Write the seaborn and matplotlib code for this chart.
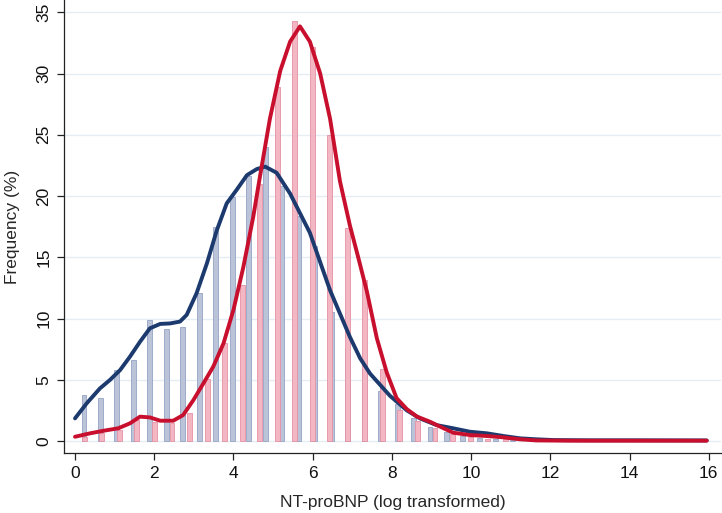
import numpy as np
import pandas as pd
import matplotlib
matplotlib.use("Agg")
import matplotlib.pyplot as plt
import seaborn as sns

# ---------------- data ----------------
# Histogram group 1 (blue-grey): bins start at 0, width ~0.416
blue_start = 0.019
blue_width = 0.416
blue_pct = [3.76, 3.54, 5.8, 6.64, 9.89, 9.12, 9.34, 12.07, 17.5, 19.9,
            21.65, 24.0, 20.8, 18.4, 15.9, 10.5, 7.6, 5.9, 4.1, 3.0,
            1.85, 1.17, 0.76, 0.41, 0.22, 0.16, 0.1]

# Histogram group 2 (pink): bins start at 0, width ~0.443
pink_start = 0.014
pink_width = 0.4427
pink_pct = [0.35, 0.68, 0.9, 1.7, 1.55, 1.45, 2.3, 5.1, 8.0, 12.7,
            21.0, 28.9, 34.3, 32.2, 25.0, 17.4, 13.15, 5.9, 2.5, 1.6,
            1.04, 0.57, 0.3, 0.16, 0.14]

# Density curves (in %)
blue_curve_x = [0, 0.295, 0.63, 0.88, 1.14, 1.39, 1.64, 1.89, 2.15, 2.4, 2.65, 2.82,
                3.07, 3.33, 3.58, 3.83, 4.08, 4.34, 4.59, 4.8, 5.09, 5.43, 5.68,
                5.93, 6.19, 6.44, 6.69, 6.94, 7.2, 7.45, 7.7, 7.95, 8.38, 8.71,
                9.13, 9.55, 9.97, 10.4, 10.82, 11.24, 11.66, 12.1, 13.0, 14.0, 15.95]
blue_curve_y = [1.85, 3.08, 4.3, 4.98, 5.8, 6.9, 8.1, 9.2, 9.56, 9.6, 9.75, 10.3,
                12.07, 14.5, 17.2, 19.4, 20.5, 21.7, 22.2, 22.4, 21.9, 20.2, 18.6,
                17.0, 14.6, 12.3, 10.4, 8.5, 6.75, 5.5, 4.6, 3.7, 2.5, 1.85,
                1.3, 1.04, 0.76, 0.63, 0.41, 0.22, 0.14, 0.08, 0.06, 0.06, 0.05]

red_curve_x = [0, 0.38, 0.72, 1.09, 1.39, 1.64, 1.89, 2.15, 2.48, 2.73, 2.99, 3.24,
               3.49, 3.75, 4.0, 4.25, 4.5, 4.67, 4.92, 5.18, 5.43, 5.68, 5.93,
               6.19, 6.44, 6.69, 6.94, 7.15, 7.37, 7.62, 7.87, 8.12, 8.38, 8.63,
               8.96, 9.22, 9.55, 9.97, 10.4, 10.82, 11.24, 11.66, 12.5, 14.0, 15.95]
red_curve_y = [0.35, 0.63, 0.84, 1.04, 1.45, 1.99, 1.93, 1.66, 1.66, 2.12, 3.35, 4.7,
               6.07, 7.98, 10.7, 14.2, 18.3, 21.6, 26.3, 30.2, 32.6, 33.85, 32.6,
               30.0, 26.3, 21.2, 17.6, 15.0, 12.2, 8.4, 5.6, 3.5, 2.6, 2.0,
               1.58, 1.17, 0.68, 0.49, 0.41, 0.3, 0.14, 0.05, 0.03, 0.03, 0.03]

x_ticks = [0, 2, 4, 6, 8, 10, 12, 14, 16]
y_ticks = [0, 5, 10, 15, 20, 25, 30, 35]
x_label = "NT-proBNP (log transformed)"
y_label = "Frequency (%)"

# ---------------- style ----------------
sns.set_theme(style="white")
plt.rcParams["font.family"] = ["Liberation Sans", "DejaVu Sans"]

fig = plt.figure(figsize=(7.22, 5.13), dpi=100)
ax = fig.add_axes([64 / 722, 1 - 453.3 / 513, (721 - 64) / 722, 453.3 / 513])

def bin_table(start, width, pct):
    n = len(pct)
    centers = start + width * (np.arange(n) + 0.5)
    edges = [float(e) for e in start + width * np.arange(n + 1)]
    return pd.DataFrame({"x": centers, "w": pct}), edges

blue_df, blue_edges = bin_table(blue_start, blue_width, blue_pct)
pink_df, pink_edges = bin_table(pink_start, pink_width, pink_pct)

sns.histplot(data=blue_df, x="x", weights="w", bins=blue_edges, shrink=0.30,
             color="#bac3d8", edgecolor="#95a4c4", linewidth=0.6, alpha=1.0, ax=ax)
sns.histplot(data=pink_df, x="x", weights="w", bins=pink_edges, shrink=0.28,
             color="#f3b7c4", edgecolor="#e590a4", linewidth=0.6, alpha=1.0, ax=ax)

sns.lineplot(x=blue_curve_x, y=blue_curve_y, color="#1c3a6e", linewidth=2.8, ax=ax)
sns.lineplot(x=red_curve_x, y=red_curve_y, color="#c8102e", linewidth=2.8, ax=ax)

ax.set_xlim(-0.278, 16.31)
ax.set_ylim(-1.0, 36.0)
ax.set_xticks(x_ticks)
ax.set_yticks(y_ticks)
ax.set_xticklabels([str(t) for t in x_ticks], fontsize=12.5)
ax.set_yticklabels([str(t) for t in y_ticks], fontsize=12.5, rotation=90, va="center")
ax.set_xlabel(x_label, fontsize=12.5, labelpad=10)
ax.set_ylabel(y_label, fontsize=12.5, labelpad=12)

ax.yaxis.grid(True, color="#e4edf4", linewidth=1.0)
ax.xaxis.grid(False)
ax.set_axisbelow(True)
for s in ["top", "right"]:
    ax.spines[s].set_visible(False)
for s in ["left", "bottom"]:
    ax.spines[s].set_color("#222222")
    ax.spines[s].set_linewidth(0.9)
ax.tick_params(axis="both", which="major", direction="out", length=5, width=0.9,
               color="#222222", labelcolor="#111111", bottom=True, left=True, pad=4)

fig.savefig("out.png", dpi=100)
